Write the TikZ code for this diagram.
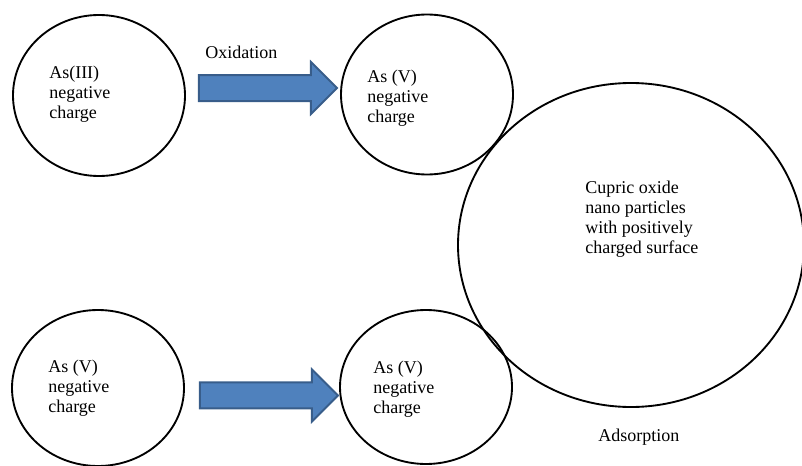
\documentclass[tikz,border=0pt]{standalone}
\usepackage{fontspec}
\setmainfont{Liberation Serif}
\usetikzlibrary{positioning,shapes.geometric,shapes.arrows}
\definecolor{arrowblue}{RGB}{79,129,189}
\definecolor{arrowedge}{RGB}{56,93,138}

\begin{document}
\begin{tikzpicture}[x=0.75pt,y=0.75pt,
  bubble/.style={draw, ellipse, line width=1.4pt, inner sep=0pt},
  blockarrow/.style={single arrow, draw=arrowedge, fill=arrowblue, line width=1.5pt,
    inner xsep=0pt, inner ysep=9pt, single arrow head extend=9.75pt,
    single arrow tip angle=90, minimum height=103.5pt},
  txt/.style={anchor=north west, inner sep=0pt, align=left,
    font=\fontsize{13.5pt}{15pt}\selectfont}]
\useasboundingbox (0,0) rectangle (802,465);

% Define nodes
\node[bubble, minimum width=129pt, minimum height=120.75pt] (as3) at (99,369.5) {};
\node[bubble, minimum width=129pt, minimum height=120pt] (as5top) at (427,370.5) {};
\node[bubble, minimum width=259.5pt, minimum height=243pt] (cuo) at (631,220) {};
\node[bubble, minimum width=129pt, minimum height=117pt] (as5bot) at (98,77) {};
\node[bubble, minimum width=129pt, minimum height=115.5pt] (as5ads) at (426,78) {};

% Block arrows
\node[blockarrow, right=9pt of as3, yshift=5.6pt] (oxid) {};
\node[blockarrow, right=10.5pt of as5bot, yshift=-5.6pt] (move) {};

% Texts
\node[txt] (as3txt) at (49,399) {As(III)\\negative\\charge};
\node[txt] (as5toptxt) at (367,395) {As (V)\\negative\\charge};
\node[txt] (cuotxt) at (585,284) {Cupric oxide\\nano particles\\with positively\\charged surface};
\node[txt] (as5bottxt) at (48,105) {As (V)\\negative\\charge};
\node[txt] (as5adstxt) at (373,104) {As (V)\\negative\\charge};
\node[txt] (oxidtxt) at (205,419) {Oxidation};
\node[txt] (adstxt) at (598,36) {Adsorption};

\end{tikzpicture}
\end{document}
